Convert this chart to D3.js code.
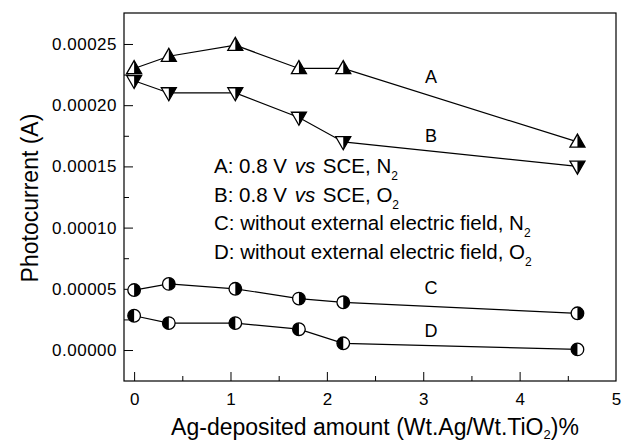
<!DOCTYPE html>
<html>
<head>
<meta charset="utf-8">
<script src="https://cdn.jsdelivr.net/npm/d3@7"></script>
<style>
  html, body { margin: 0; padding: 0; background: #fff; }
  svg { display: block; font-family: "Liberation Sans", Arial, Helvetica, sans-serif; }
</style>
</head>
<body>
<svg id="chart" width="630" height="442"></svg>
<script>
// Ag loading on TiO2 (wt %)
const agAmount = [0, 0.36, 1.05, 1.71, 2.17, 4.6];

// Photocurrent (A) for each condition
const seriesA = [0.00023, 0.00024, 0.000249, 0.00023, 0.00023, 0.00017];
const seriesB = [0.00022, 0.00021, 0.00021, 0.00019, 0.00017, 0.00015];
const seriesC = [0.000049, 0.000054, 0.00005, 0.000042, 0.000039, 0.00003];
const seriesD = [0.000028, 0.000022, 0.000022, 0.000017, 0.0000055, 0.0000005];

const seriesNames = ["A", "B", "C", "D"];
const seriesLabelX = [3.08, 3.08, 3.08, 3.08];
const seriesLabelY = [0.000218, 0.00017, 0.0000455, 0.0000104];

const yTickLabels = ["0.00000", "0.00005", "0.00010", "0.00015", "0.00020", "0.00025"];
const yTickValues = [0, 0.00005, 0.0001, 0.00015, 0.0002, 0.00025];
const xTickValues = [0, 1, 2, 3, 4, 5];

const svg = d3.select("#chart");
const plotLeft = 124, plotRight = 616, plotTop = 13, plotBottom = 381;

const x = d3.scaleLinear().domain([-0.105, 5]).range([plotLeft, plotRight]);
const y = d3.scaleLinear().domain([-0.0000253, 0.0002753]).range([plotBottom, plotTop]);

// frame
svg.append("rect")
  .attr("x", plotLeft).attr("y", plotTop)
  .attr("width", plotRight - plotLeft).attr("height", plotBottom - plotTop)
  .attr("fill", "none").attr("stroke", "#000").attr("stroke-width", 1.2);

// y axis: major ticks inward with labels, minor ticks in between
const yAxis = d3.axisRight(y).tickValues(yTickValues)
  .tickSize(9).tickFormat((d, i) => yTickLabels[i]);
const gy = svg.append("g").attr("transform", `translate(${plotLeft},0)`).call(yAxis);
gy.select(".domain").remove();
gy.selectAll("text").attr("x", -7).attr("text-anchor", "end")
  .attr("font-size", 17).attr("letter-spacing", 0.5).attr("fill", "#000")
  .attr("font-family", "Liberation Sans, Arial, sans-serif");
gy.selectAll("line").attr("stroke", "#000");

const yMinor = d3.axisRight(y).tickValues(d3.range(0.000025, 0.00026, 0.00005))
  .tickSize(5).tickFormat("");
const gym = svg.append("g").attr("transform", `translate(${plotLeft},0)`).call(yMinor);
gym.select(".domain").remove();

// x axis
const xAxis = d3.axisTop(x).tickValues(xTickValues).tickSize(9).tickFormat(d3.format("d"));
const gx = svg.append("g").attr("transform", `translate(0,${plotBottom})`).call(xAxis);
gx.select(".domain").remove();
gx.selectAll("text").attr("y", 24).attr("dy", 0)
  .attr("font-size", 17).attr("fill", "#000")
  .attr("font-family", "Liberation Sans, Arial, sans-serif");
gx.selectAll(".tick").filter(d => d === 5).select("line").remove();

const xMinor = d3.axisTop(x).tickValues([0.5, 1.5, 2.5, 3.5, 4.5]).tickSize(5).tickFormat("");
const gxm = svg.append("g").attr("transform", `translate(0,${plotBottom})`).call(xMinor);
gxm.select(".domain").remove();

// connecting lines
const line = d3.line().x((d, i) => x(agAmount[i])).y(d => y(d));
[seriesA, seriesB, seriesC, seriesD].forEach(s => {
  svg.append("path").attr("d", line(s))
    .attr("fill", "none").attr("stroke", "#000").attr("stroke-width", 1.2);
});

// half-filled markers
const tw = 7.5, th = 13;
function upTri(g) {
  g.append("path").attr("d", `M0,${-th * 0.6}L${tw},${th * 0.4}L${-tw},${th * 0.4}Z`)
    .attr("fill", "#fff").attr("stroke", "#000").attr("stroke-width", 1.3);
  g.append("path").attr("d", `M0,${-th * 0.6}L${tw},${th * 0.4}L0,${th * 0.4}Z`).attr("fill", "#000");
}
function downTri(g) {
  g.append("path").attr("d", `M0,${th * 0.6}L${tw},${-th * 0.4}L${-tw},${-th * 0.4}Z`)
    .attr("fill", "#fff").attr("stroke", "#000").attr("stroke-width", 1.3);
  g.append("path").attr("d", `M0,${th * 0.6}L${tw},${-th * 0.4}L0,${-th * 0.4}Z`).attr("fill", "#000");
}
const r = 6.3;
function circ(darkRight) {
  return g => {
    g.append("circle").attr("r", r).attr("fill", "#fff").attr("stroke", "#000").attr("stroke-width", 1.3);
    const s = darkRight ? 1 : 0;
    g.append("path").attr("d", `M0,${-r}A${r},${r} 0 0 ${s} 0,${r}Z`).attr("fill", "#000");
  };
}

const markerFns = [upTri, downTri, circ(true), circ(false)];
[seriesA, seriesB, seriesC, seriesD].forEach((s, k) => {
  s.forEach((v, i) => {
    const g = svg.append("g").attr("transform", `translate(${x(agAmount[i])},${y(v)})`);
    markerFns[k](g);
  });
});

// series letters
seriesNames.forEach((n, i) => {
  svg.append("text").attr("x", x(seriesLabelX[i])).attr("y", y(seriesLabelY[i]))
    .attr("text-anchor", "middle").attr("font-size", 18).attr("fill", "#000").text(n);
});

// condition notes
const notes = [
  ["A: 0.8 V ", "vs", " SCE, N", "2"],
  ["B: 0.8 V ", "vs", " SCE, O", "2"],
  ["C: without external electric field, N", null, null, "2"],
  ["D: without external electric field, O", null, null, "2"]
];
const noteY = [173, 201.5, 230, 258.5];
notes.forEach((n, i) => {
  const t = svg.append("text").attr("x", 214).attr("y", noteY[i])
    .attr("font-size", 20.5).attr("fill", "#000");
  t.append("tspan").text(n[0]);
  if (n[1]) {
    t.append("tspan").attr("font-style", "italic").attr("dx", 2).text(n[1]);
    t.append("tspan").attr("dx", 2).text(n[2]);
  }
  t.append("tspan").attr("font-size", 12).attr("dy", 7).text(n[3]);
});

// axis titles
svg.append("text")
  .attr("transform", "translate(38,198) rotate(-90)")
  .attr("text-anchor", "middle").attr("font-size", 23).attr("fill", "#000")
  .text("Photocurrent (A)");

const xt = svg.append("text").attr("x", 375).attr("y", 435)
  .attr("text-anchor", "middle").attr("font-size", 23).attr("fill", "#000");
xt.append("tspan").text("Ag-deposited amount (Wt.Ag/Wt.TiO");
xt.append("tspan").attr("font-size", 13).attr("dy", 4).text("2");
xt.append("tspan").attr("dy", -4).text(")%");
</script>
</body>
</html>
